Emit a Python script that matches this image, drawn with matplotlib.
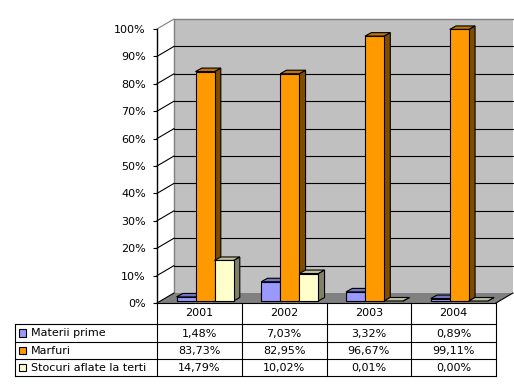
import matplotlib
matplotlib.use("Agg")
import matplotlib.pyplot as plt
from matplotlib.patches import Polygon, Rectangle

# ── data ──────────────────────────────────────────────────────────────────────
years = ["2001", "2002", "2003", "2004"]
series_names = ["Materii prime", "Marfuri", "Stocuri aflate la terti"]
materii_prime = [1.48, 7.03, 3.32, 0.89]
marfuri = [83.73, 82.95, 96.67, 99.11]
stocuri_terti = [14.79, 10.02, 0.01, 0.00]
y_ticks = [0, 10, 20, 30, 40, 50, 60, 70, 80, 90, 100]

series_values = [materii_prime, marfuri, stocuri_terti]
# front, top, side colours per series (Excel-like shading)
front_cols = ["#9999FF", "#FF9900", "#FFFFCC"]
top_cols = ["#7373BF", "#BF7300", "#BFBF99"]
side_cols = ["#4C4C80", "#804C00", "#808066"]

W, H = 514, 385
fig = plt.figure(figsize=(W / 100, H / 100), dpi=100)
plt.rcParams['font.family'] = ['DejaVu Sans']
FS = 8

# ── main plot area (front plane) ─────────────────────────────────────────────
L, R, T, B = 157, 496, 29, 303
ax = fig.add_axes([L / W, (H - B) / H, (R - L) / W, (B - T) / H])
ax.set_xlim(0, 4)
ax.set_ylim(0, 100)
PX_X = (R - L) / 4          # pixels per category
PX_Y = (B - T) / 100        # pixels per percent

DX, DY = 17 / PX_X, 10 / PX_Y          # wall depth
for s in ["top", "right", "bottom"]:
    ax.spines[s].set_visible(False)
ax.spines["left"].set_linewidth(1)
ax.set_xticks([])
ax.set_yticks(y_ticks)
ax.set_yticklabels([f"{t}%" for t in y_ticks], fontsize=FS)
ax.tick_params(axis="y", direction="out", length=3, width=0.8, pad=5)
ax.patch.set_visible(False)

# floor
ax.add_patch(Polygon([(0, 0), (4, 0), (4 + DX, DY), (DX, DY)],
                     closed=True, facecolor="#808080", edgecolor="none",
                     clip_on=False, zorder=1))
ax.plot([4, 4 + DX], [0, DY], color="black", lw=0.8, clip_on=False, zorder=2)

# back wall
ax.add_patch(Rectangle((DX, DY), 4, 100, facecolor="#C0C0C0",
                       edgecolor="none", clip_on=False, zorder=1))
ax.plot([DX, DX, 4 + DX], [DY, 100 + DY, 100 + DY], color="#808080",
        lw=1, clip_on=False, zorder=2)
for t in y_ticks[1:-1]:
    ax.plot([DX, 4 + DX], [t + DY, t + DY], color="black", lw=0.8,
            clip_on=False, zorder=2)
# side wall grid
for t in y_ticks:
    ax.plot([0, DX], [t, t + DY], color="black" if t < 100 else "#808080",
            lw=0.8, clip_on=False, zorder=2)

# ── 3D bars ──────────────────────────────────────────────────────────────────
BAR_W = 19 / PX_X
GAP = 19.5 / PX_X
YB = 2 / PX_Y
BDX, BDY = 6.3 / PX_X, 3.5 / PX_Y
z = 3
for i in range(len(years)):
    for j, vals in enumerate(series_values):
        v = vals[i]
        x0 = i + GAP + j * BAR_W
        side = [(x0 + BAR_W, YB), (x0 + BAR_W + BDX, YB + BDY),
                (x0 + BAR_W + BDX, YB + v + BDY), (x0 + BAR_W, YB + v)]
        top = [(x0, YB + v), (x0 + BAR_W, YB + v),
               (x0 + BAR_W + BDX, YB + v + BDY), (x0 + BDX, YB + v + BDY)]
        ax.add_patch(Polygon(side, closed=True, facecolor=side_cols[j],
                             edgecolor="black", lw=0.8, clip_on=False, zorder=z))
        ax.add_patch(Polygon(top, closed=True, facecolor=top_cols[j],
                             edgecolor="black", lw=0.8, clip_on=False, zorder=z))
        if v > 0.05:
            ax.add_patch(Rectangle((x0, YB), BAR_W, v, facecolor=front_cols[j],
                                   edgecolor="black", lw=0.8, clip_on=False,
                                   zorder=z))
        z += 1

# ── data table ───────────────────────────────────────────────────────────────
TL, TB = 15, 376
tab = fig.add_axes([TL / W, (H - TB) / H, (R - TL) / W, (TB - B) / H])
XL = -(L - TL) / PX_X
tab.set_xlim(XL, 4)
tab.set_ylim(TB - B, 0)
tab.axis("off")
rows = [0, 21, 39, 56, 73]
lk = dict(color="black", lw=0.8, clip_on=False)

tab.plot([0, 4], [rows[0], rows[0]], **lk)
for r in rows[1:]:
    tab.plot([XL, 4], [r, r], **lk)
for c in range(5):
    tab.plot([c, c], [rows[0], rows[-1]], **lk)
tab.plot([XL, XL], [rows[1], rows[-1]], **lk)

for i, yr in enumerate(years):
    tab.text(i + 0.5, (rows[0] + rows[1]) / 2, yr, ha="center", va="center",
             fontsize=FS)
for j, (name, vals) in enumerate(zip(series_names, series_values)):
    yc = (rows[j + 1] + rows[j + 2]) / 2
    ks = 7.5 / PX_X
    tab.add_patch(Rectangle((XL + 4 / PX_X, yc - 3.75), ks, 7.5,
                            facecolor=front_cols[j], edgecolor="black",
                            lw=0.8, clip_on=False))
    tab.text(XL + 16 / PX_X, yc + 0.5, name, ha="left", va="center",
             fontsize=FS)
    for i, v in enumerate(vals):
        tab.text(i + 0.5, yc + 0.5, f"{v:.2f}".replace(".", ",") + "%",
                 ha="center", va="center", fontsize=FS)

fig.savefig("out.png", dpi=100)
